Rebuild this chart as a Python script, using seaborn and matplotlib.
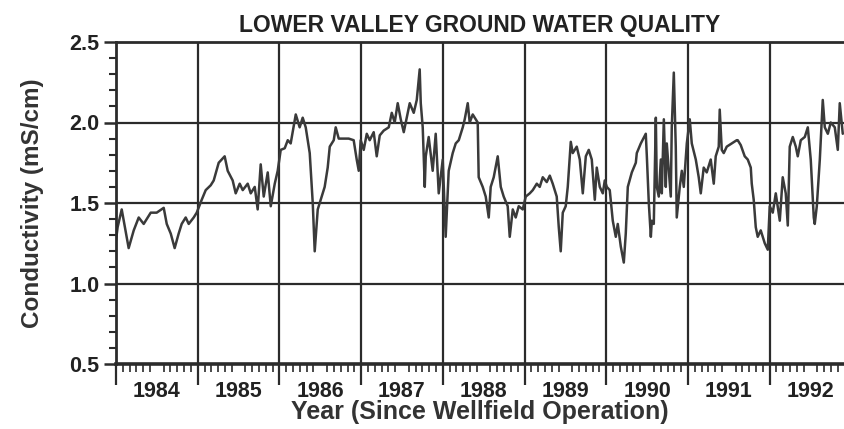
import numpy as np
import pandas as pd
import matplotlib
matplotlib.use("Agg")
import matplotlib.pyplot as plt
import seaborn as sns
from matplotlib.ticker import MultipleLocator, FixedLocator, NullFormatter

# ---- data (years since 1984, conductivity mS/cm) ----
t_offset = [0.00, 0.02, 0.07, 0.155, 0.217, 0.278, 0.339, 0.425, 0.498, 0.584, 0.621, 0.670,
            0.718, 0.767, 0.804, 0.853, 0.890, 0.951, 0.988, 1.049, 1.098, 1.159, 1.196, 1.257,
            1.330, 1.367, 1.428, 1.465, 1.514, 1.551, 1.612, 1.649, 1.698, 1.734, 1.771, 1.808,
            1.857, 1.894, 1.943, 1.979, 2.016, 2.065, 2.102, 2.138, 2.200, 2.248, 2.285, 2.322,
            2.371, 2.408, 2.432, 2.469, 2.518, 2.554, 2.591, 2.616, 2.665, 2.689, 2.726, 2.763,
            2.848, 2.909, 2.946, 2.971, 2.995, 3.032, 3.069, 3.105, 3.154, 3.191, 3.228, 3.277,
            3.338, 3.375, 3.411, 3.448, 3.485, 3.522, 3.558, 3.595, 3.644, 3.681, 3.717, 3.730,
            3.754, 3.779, 3.791, 3.827, 3.876, 3.913, 3.950, 3.999, 4.035, 4.072, 4.121, 4.158,
            4.195, 4.244, 4.268, 4.305, 4.329, 4.366, 4.403, 4.427, 4.439, 4.488, 4.525, 4.562,
            4.586, 4.623, 4.672, 4.709, 4.745, 4.794, 4.819, 4.856, 4.892, 4.929, 4.978, 5.015,
            5.064, 5.101, 5.150, 5.186, 5.223, 5.272, 5.309, 5.345, 5.394, 5.419, 5.443, 5.468,
            5.504, 5.529, 5.566, 5.590, 5.639, 5.676, 5.713, 5.750, 5.786, 5.823, 5.860, 5.884,
            5.921, 5.958, 5.982, 6.007, 6.043, 6.080, 6.117, 6.141, 6.178, 6.215, 6.239, 6.264,
            6.313, 6.362, 6.374, 6.423, 6.484, 6.497, 6.521, 6.546, 6.558, 6.582, 6.607, 6.619,
            6.643, 6.668, 6.680, 6.705, 6.729, 6.741, 6.766, 6.790, 6.802, 6.827, 6.851, 6.863,
            6.900, 6.925, 6.949, 6.986, 7.022, 7.047, 7.096, 7.132, 7.157, 7.193, 7.230, 7.279,
            7.316, 7.340, 7.377, 7.389, 7.414, 7.438, 7.475, 7.536, 7.597, 7.609, 7.646, 7.695,
            7.732, 7.769, 7.781, 7.805, 7.830, 7.854, 7.891, 7.940, 7.977, 8.001, 8.038, 8.075,
            8.124, 8.160, 8.197, 8.222, 8.246, 8.283, 8.320, 8.344, 8.381, 8.430, 8.467, 8.503,
            8.540, 8.552, 8.577, 8.614, 8.650, 8.675, 8.712, 8.748, 8.797, 8.834, 8.858, 8.895]

conductivity = [1.27, 1.35, 1.46, 1.22, 1.33, 1.41, 1.37, 1.44, 1.44, 1.47, 1.37, 1.31,
                1.22, 1.31, 1.37, 1.41, 1.37, 1.41, 1.44, 1.52, 1.58, 1.61, 1.64, 1.75,
                1.79, 1.70, 1.64, 1.56, 1.62, 1.58, 1.62, 1.56, 1.60, 1.46, 1.74, 1.54,
                1.69, 1.48, 1.62, 1.70, 1.83, 1.84, 1.89, 1.87, 2.05, 1.97, 2.03, 1.97,
                1.81, 1.50, 1.20, 1.46, 1.54, 1.60, 1.72, 1.85, 1.89, 1.97, 1.90, 1.90,
                1.90, 1.89, 1.77, 1.70, 1.89, 1.83, 1.93, 1.89, 1.94, 1.79, 1.92, 1.95,
                1.97, 2.06, 2.00, 2.12, 2.02, 1.94, 2.03, 2.12, 2.06, 2.14, 2.33, 2.12,
                1.97, 1.60, 1.79, 1.91, 1.70, 1.93, 1.56, 1.77, 1.29, 1.70, 1.81, 1.87,
                1.89, 1.97, 2.02, 2.12, 2.00, 2.05, 2.02, 2.00, 1.66, 1.60, 1.54, 1.41,
                1.60, 1.66, 1.79, 1.60, 1.54, 1.48, 1.29, 1.46, 1.41, 1.48, 1.46, 1.54,
                1.56, 1.58, 1.62, 1.60, 1.66, 1.63, 1.67, 1.62, 1.54, 1.35, 1.20, 1.44,
                1.48, 1.60, 1.88, 1.81, 1.85, 1.77, 1.56, 1.79, 1.83, 1.77, 1.52, 1.72,
                1.60, 1.56, 1.64, 1.60, 1.58, 1.39, 1.29, 1.37, 1.23, 1.13, 1.31, 1.60,
                1.69, 1.75, 1.81, 1.87, 1.93, 1.79, 1.50, 1.29, 1.39, 1.37, 2.03, 1.60,
                1.54, 1.77, 1.56, 2.02, 1.60, 1.87, 1.70, 1.54, 1.97, 2.31, 1.85, 1.41,
                1.60, 1.70, 1.60, 1.87, 2.02, 1.87, 1.77, 1.66, 1.56, 1.72, 1.69, 1.77,
                1.62, 1.79, 1.85, 2.08, 1.83, 1.81, 1.85, 1.87, 1.89, 1.89, 1.86, 1.79,
                1.77, 1.72, 1.62, 1.52, 1.35, 1.29, 1.33, 1.25, 1.21, 1.48, 1.44, 1.56,
                1.39, 1.66, 1.56, 1.36, 1.85, 1.91, 1.85, 1.79, 1.89, 1.91, 1.97, 1.77,
                1.41, 1.37, 1.48, 1.77, 2.14, 1.97, 1.93, 2.00, 1.97, 1.83, 2.12, 1.93]

start_year = 1984
year_labels = ["1984", "1985", "1986", "1987", "1988", "1989", "1990", "1991", "1992"]
y_ticks = [0.5, 1.0, 1.5, 2.0, 2.5]

title = "LOWER VALLEY GROUND WATER QUALITY"
xlabel = "Year (Since Wellfield Operation)"
ylabel = "Conductivity (mS/cm)"

df = pd.DataFrame({"year": start_year + np.array(t_offset), "cond": conductivity})

# ---- styling ----
sns.set_style("white")
plt.rcParams["font.family"] = ["Liberation Sans", "DejaVu Sans"]
ink = "#2b2b2b"

fig = plt.figure(figsize=(8.44, 4.29), dpi=100)
ax = fig.add_axes([116 / 844, 1 - 364 / 429, 1 - 116 / 844, (364 - 42) / 429])

sns.lineplot(data=df, x="year", y="cond", ax=ax, color="#3a3a3a", lw=1.8,
             estimator=None, sort=False)

ax.set_xlim(start_year, start_year + 8.91)
ax.set_ylim(0.5, 2.5)

# grid lines
for yv in y_ticks[1:-1]:
    ax.axhline(yv, color=ink, lw=1.6, zorder=0)
for k in range(1, len(year_labels)):
    ax.axvline(start_year + k, color=ink, lw=1.6, zorder=0)

# spines
for s in ["left", "bottom", "top"]:
    ax.spines[s].set_visible(True)
    ax.spines[s].set_color(ink)
    ax.spines[s].set_linewidth(2.0)
ax.spines["bottom"].set_linewidth(2.6)
ax.spines["right"].set_visible(False)

# y ticks
ax.yaxis.set_major_locator(FixedLocator(y_ticks))
ax.yaxis.set_minor_locator(MultipleLocator(0.1))
ax.set_yticklabels([f"{v:.1f}" for v in y_ticks])
ax.tick_params(axis="y", which="major", direction="out", length=9, width=1.8,
               color=ink, labelsize=15.5, pad=3, left=True)
ax.tick_params(axis="y", which="minor", direction="out", length=5, width=1.5,
               color=ink, left=True)

# x ticks: labels at mid-year, monthly minor ticks
mid = [start_year + k + 0.5 for k in range(len(year_labels))]
ax.xaxis.set_major_locator(FixedLocator(mid))
ax.set_xticklabels(year_labels)
ax.xaxis.set_minor_locator(MultipleLocator(1 / 12))
ax.xaxis.set_minor_formatter(NullFormatter())
ax.tick_params(axis="x", which="major", length=0, labelsize=15.5, pad=12, bottom=True)
ax.tick_params(axis="x", which="minor", direction="out", length=6, width=1.2,
               color=ink, bottom=True)

# long year-boundary ticks
sec = ax.secondary_xaxis("bottom")
sec.xaxis.set_major_locator(FixedLocator([start_year + k for k in range(len(year_labels) + 1)]))
sec.xaxis.set_major_formatter(NullFormatter())
sec.tick_params(axis="x", which="major", direction="out", length=15, width=1.6, color=ink)
sec.spines["bottom"].set_visible(False)

for lab in ax.get_xticklabels() + ax.get_yticklabels():
    lab.set_fontweight("bold")
    lab.set_color("#222222")

ax.set_xlabel(xlabel, fontsize=18, fontweight="bold", color="#333333", labelpad=-1)
ax.set_ylabel(ylabel, fontsize=17.5, fontweight="bold", color="#333333", labelpad=18)
ax.set_title(title, fontsize=16.5, fontweight="bold", color="#222222", pad=7)

fig.savefig("out.png", dpi=100, facecolor="white")
